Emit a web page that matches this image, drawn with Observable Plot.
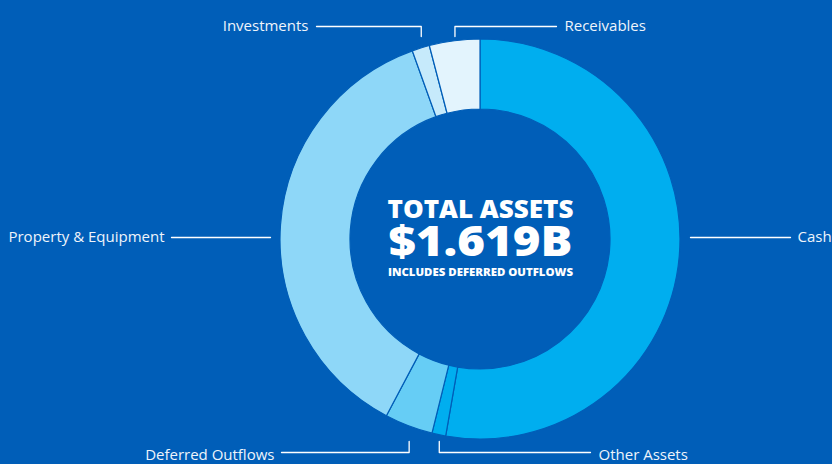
<!DOCTYPE html>
<html><head><meta charset="utf-8">
<script src="https://cdn.jsdelivr.net/npm/d3@7"></script>
<script src="https://cdn.jsdelivr.net/npm/@observablehq/plot@0.6"></script>
<style>
html,body{margin:0;padding:0;background:#005eb8;overflow:hidden}
#chart svg{display:block}
</style></head><body><div id="chart"></div>
<script>
// ---- data ----
const categories = ["Cash", "Other Assets", "Deferred Outflows", "Property & Equipment", "Investments", "Receivables"];
const values = [854, 18, 63, 595, 23, 66]; // $ millions (estimated)
const colors = ["#00aeef", "#00aeef", "#66cdf5", "#8ed7f8", "#c6eafb", "#e3f4fd"];
const centerLines = ["TOTAL ASSETS", "$1.619B", "INCLUDES DEFERRED OUTFLOWS"];

// ---- layout (kept separate from data) ----
const W = 832, H = 464, BG = "#005eb8";
const layout = {cx: 480, cy: 239, outer: 200, inner: 130};
const labelLayout = {
  "Cash": {side: "right", end: 310},
  "Property & Equipment": {side: "left", end: -309},
  "Investments": {side: "top", end: -164},
  "Receivables": {side: "top", end: 76},
  "Deferred Outflows": {side: "bottom", end: -199},
  "Other Assets": {side: "bottom", end: 110}
};
const centerStyle = [
  {dy: -30, size: 25.5, len: 186},
  {dy: 3, size: 43, len: 184},
  {dy: 32.5, size: 11, len: 185}
];

const pie = d3.pie().sort(null).value(d => d)(values);
const rows = categories.map((c, i) => ({
  c, v: values[i],
  start: pie[i].startAngle, end: pie[i].endAngle,
  mid: (pie[i].startAngle + pie[i].endAngle) / 2
}));

const R = layout.outer;
const leaders = [];
const labels = [];
rows.forEach(d => {
  const L = labelLayout[d.c];
  const mx = R * Math.sin(d.mid);
  if (L.side === "top") {
    leaders.push({c: d.c, x: mx, y: -(R + 3)}, {c: d.c, x: mx, y: -(R + 13)}, {c: d.c, x: L.end, y: -(R + 13)});
    labels.push({c: d.c, x: L.end + (L.end < 0 ? -8 : 8), y: -(R + 13), anchor: L.end < 0 ? "end" : "start"});
  } else if (L.side === "bottom") {
    leaders.push({c: d.c, x: mx, y: R + 2}, {c: d.c, x: mx, y: R + 13}, {c: d.c, x: L.end, y: R + 13});
    labels.push({c: d.c, x: L.end + (L.end < 0 ? -7 : 8), y: R + 16, anchor: L.end < 0 ? "end" : "start"});
  } else {
    const s = L.side === "right" ? 1 : -1;
    leaders.push({c: d.c, x: s * (R + 10), y: -2}, {c: d.c, x: L.end, y: -2});
    labels.push({c: d.c, x: L.end + s * 7, y: -2, anchor: s > 0 ? "start" : "end"});
  }
});

const center = centerLines.map((t, i) => ({t, x: 0, y: centerStyle[i].dy, size: centerStyle[i].size, len: centerStyle[i].len}));

function donutMark(index, scales) {
  const cx = scales.x(0), cy = scales.y(0);
  const k = Math.abs(scales.x(1) - scales.x(0));
  const arc = d3.arc().innerRadius(layout.inner * k).outerRadius(layout.outer * k);
  const g = d3.create("svg:g").attr("transform", `translate(${cx},${cy})`);
  g.selectAll("path").data(rows).join("path")
    .attr("d", d => arc({startAngle: d.start, endAngle: d.end}))
    .attr("fill", d => scales.color(d.c))
    .attr("stroke", BG)
    .attr("stroke-width", 1.2)
    .attr("stroke-linejoin", "round");
  return g.node();
}

const plot = Plot.plot({
  width: W, height: H,
  margin: 0,
  x: {domain: [-layout.cx, W - layout.cx], range: [0, W], axis: null},
  y: {domain: [-layout.cy, H - layout.cy], range: [0, H], axis: null},
  color: {domain: categories, range: colors},
  style: {background: BG, fontFamily: "'Open Sans', sans-serif", overflow: "visible"},
  marks: [
    donutMark,
    Plot.line(leaders, {x: "x", y: "y", z: "c", stroke: "#ffffff", strokeWidth: 1.3}),
    Plot.text(labels.filter(d => d.anchor === "end"), {x: "x", y: "y", text: "c", textAnchor: "end", fill: "#eef4fb", fontSize: 15, lineAnchor: "middle"}),
    Plot.text(labels.filter(d => d.anchor === "start"), {x: "x", y: "y", text: "c", textAnchor: "start", fill: "#eef4fb", fontSize: 15, lineAnchor: "middle"}),
    ...center.map(d => Plot.text([d], {x: "x", y: "y", text: "t", fill: "#ffffff", fontSize: d.size, fontWeight: 800, lineAnchor: "middle", className: "center-line"}))
  ]
});
// stretch the centre lines to the reference's wide extra-bold proportions
center.forEach((d, i) => {
  const g = plot.querySelectorAll("g.center-line")[i] || plot.querySelectorAll(".center-line")[i];
  if (!g) return;
  g.querySelectorAll("text").forEach(t => {
    t.setAttribute("textLength", d.len);
    t.setAttribute("lengthAdjust", "spacingAndGlyphs");
  });
});
document.getElementById("chart").appendChild(plot);
</script>
</body></html>
